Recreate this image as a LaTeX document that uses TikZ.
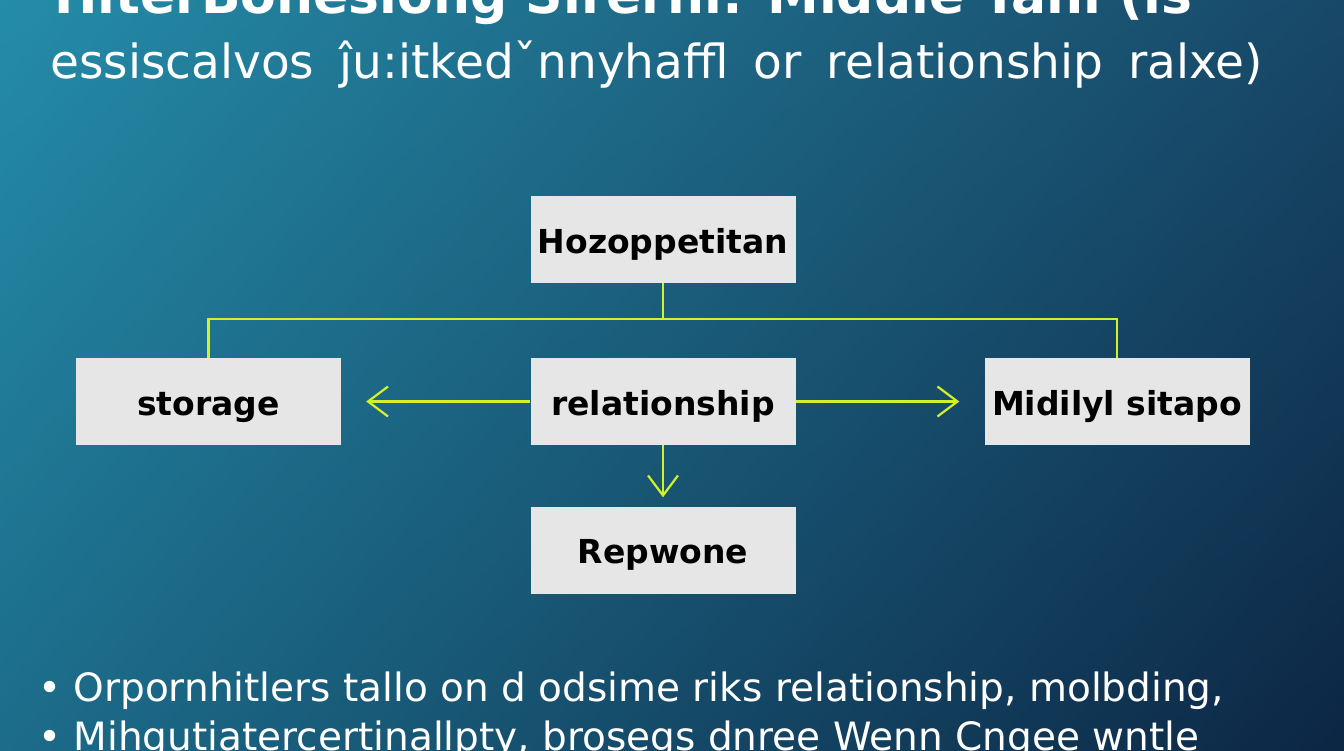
\documentclass[tikz,border=0pt]{standalone}
\usepackage{fontspec}
\setmainfont{DejaVu Sans}
\usetikzlibrary{arrows.meta,shadings}
\definecolor{bgTL}{RGB}{36,140,168}
\definecolor{bgTR}{RGB}{24,72,104}
\definecolor{bgBL}{RGB}{28,108,138}
\definecolor{bgBR}{RGB}{12,38,68}
\definecolor{boxgray}{RGB}{230,230,230}
\definecolor{lineyel}{RGB}{212,240,40}
\begin{document}
\begin{tikzpicture}[x=1pt,y=-1pt,
  box/.style={fill=boxgray, minimum width=265pt, minimum height=87pt, inner sep=0pt,
    text height=30pt, text depth=3pt,
    font=\fontsize{33}{38}\selectfont\bfseries, text=black},
  link/.style={draw=lineyel, line width=2.2pt},
  arr/.style={link, -{Straight Barb[length=20pt,width=30pt,line width=2.2pt]}},
  titletext/.style={text=white, inner sep=0pt, anchor=base west},
]
\useasboundingbox (0,0) rectangle (1344,750);
\clip (0,0) rectangle (1344,750);
\shade[upper left=bgTL, upper right=bgTR, lower left=bgBL, lower right=bgBR] (0,0) rectangle (1344,750);

% title
\node[titletext, font=\fontsize{52}{58}\selectfont\bfseries] (t1) at (54,13) {HiterBonesiong Sirerni: Middle Tahi (is};
\node[titletext, font=\fontsize{47}{52}\selectfont] (t2) at (50,78) {\spaceskip=25pt essiscalvos ĵu:itkedˇnnyhaffl or relationship ralxe)};

% boxes
\node[box] (top) at (663,239.5) {Hozoppetitan};
\node[box] (stor) at (208.5,401.5) {storage};
\node[box] (rel) at (663,401.5) {relationship};
\node[box] (mid) at (1117,401.5) {Midilyl sitapo};
\node[box] (rep) at (663,550) {Repwone};

% bus
\coordinate (busy) at (0,319);
\draw[link] (top.south) -- (top.south |- busy);
\draw[link] (stor.north) -- (stor.north |- busy) -- (mid.north |- busy) -- (mid.north);

% arrows
\draw[arr] (rel.west) -- ([xshift=25pt]stor.east);
\draw[arr] (rel.east) -- ([xshift=-25pt]mid.west);
\draw[arr] (rel.south) -- ([yshift=9pt]rep.north);

% bullets
\node[titletext, font=\fontsize{39}{44}\selectfont] (b1) at (38,701) {• Orpornhitlers tallo on d odsime riks relationship, molbding,};
\node[titletext, font=\fontsize{39}{44}\selectfont] (b2) at (38,750) {• Mihgutiatercertinallpty, brosegs dnree Wenn Cngee wntle};
\end{tikzpicture}
\end{document}
